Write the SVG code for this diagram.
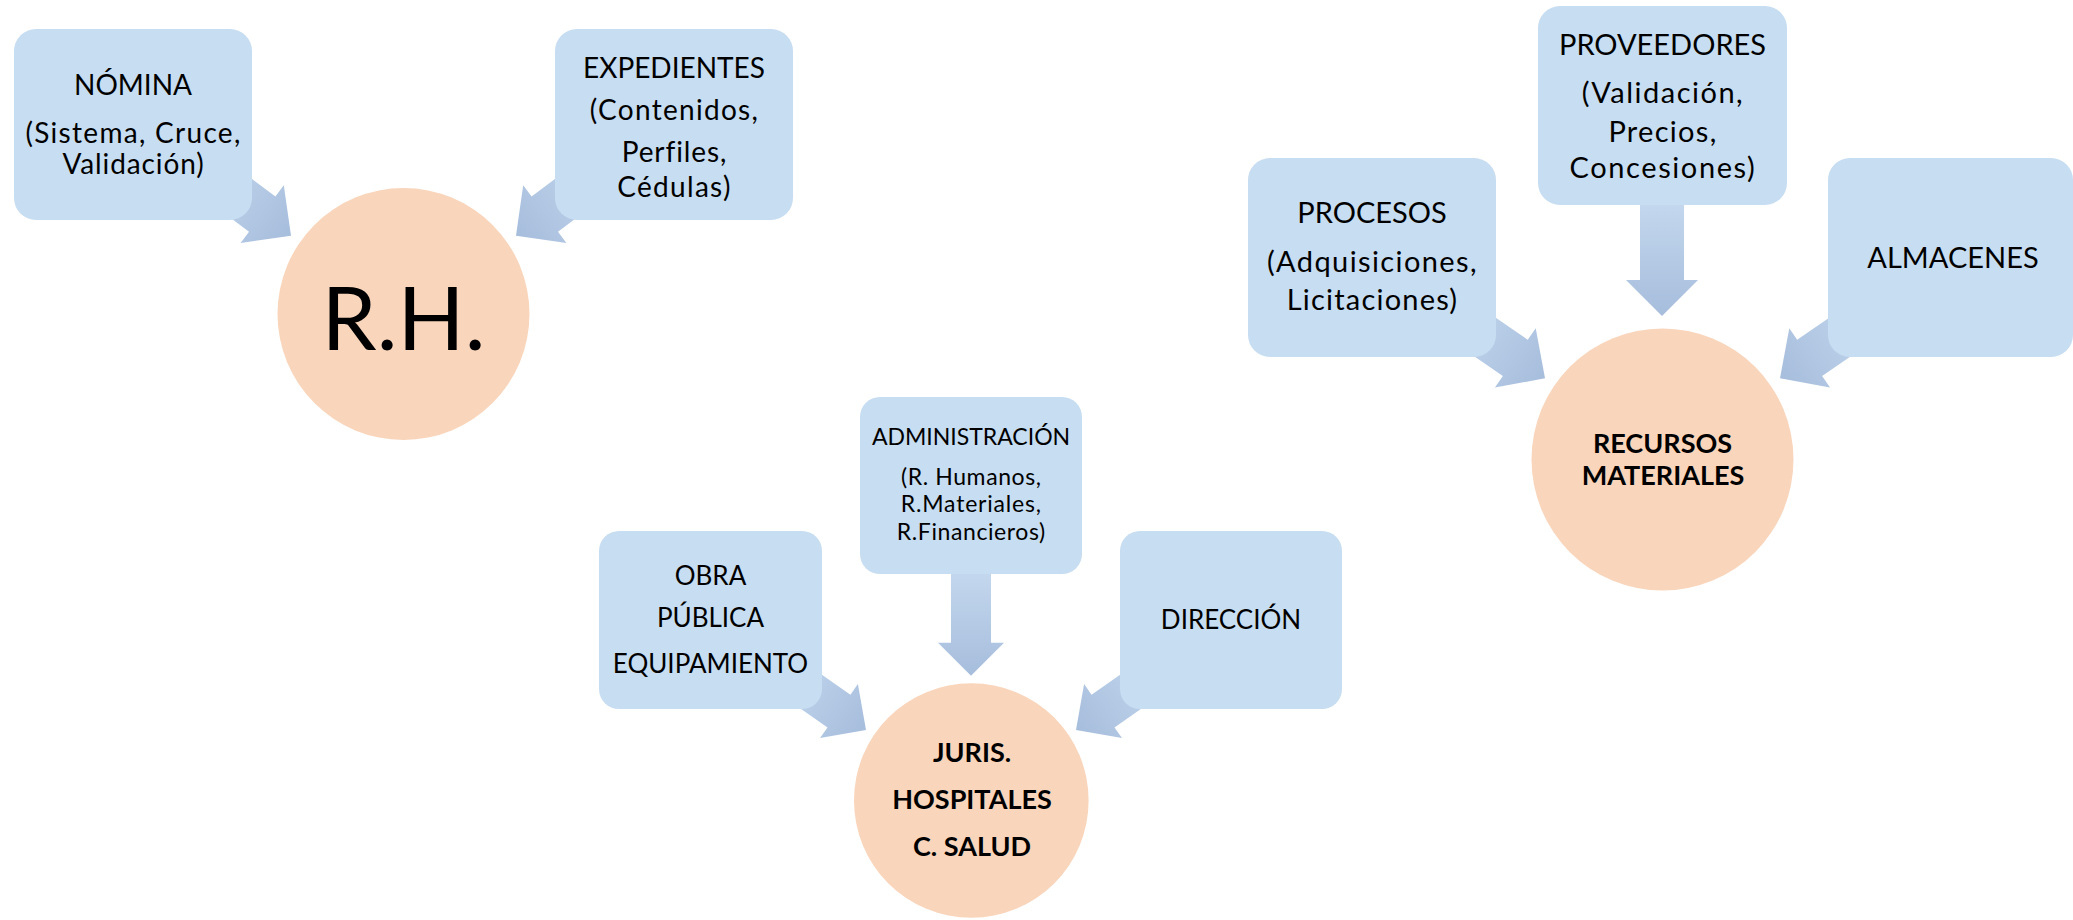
<svg xmlns="http://www.w3.org/2000/svg" xmlns:xlink="http://www.w3.org/1999/xlink" width="2073" height="920" viewBox="0 0 2073 920">
<style>
.box{fill:#c7ddf1}
.circ{fill:#f9d5bb}
.t{font-family:Lato,"Liberation Sans",sans-serif;fill:#000;text-anchor:middle}
.b{font-weight:bold}
.ls{letter-spacing:1.3px}
.ls2{letter-spacing:0.6px}
.arr{fill:url(#ag)}
</style>
<defs>
<linearGradient id="ag" x1="0" y1="0" x2="1" y2="0">
<stop offset="0" stop-color="#c8dbf0"/>
<stop offset="1" stop-color="#a6bddc"/>
</linearGradient>
<path id="bigArrow" d="M0,0 L-36,-36 L-36,-22 L-130,-22 L-130,22 L-36,22 L-36,36 Z"/>
<path id="smallArrow" d="M0,0 L-33,-33 L-33,-20 L-120,-20 L-120,20 L-33,20 L-33,33 Z"/>
</defs>
<rect width="2073" height="920" fill="#fff"/>
<g id="connectors">
<use xlink:href="#bigArrow" class="arr" transform="translate(291,235.7) rotate(36.87)"/>
<use xlink:href="#bigArrow" class="arr" transform="translate(516,235.7) rotate(143.13)"/>
<use xlink:href="#bigArrow" class="arr" transform="translate(1662,316) rotate(90)"/>
<use xlink:href="#bigArrow" class="arr" transform="translate(1545,378.3) rotate(34.5)"/>
<use xlink:href="#bigArrow" class="arr" transform="translate(1780,378.3) rotate(145.5)"/>
<use xlink:href="#smallArrow" class="arr" transform="translate(971,675.7) rotate(90)"/>
<use xlink:href="#smallArrow" class="arr" transform="translate(866,730) rotate(35)"/>
<use xlink:href="#smallArrow" class="arr" transform="translate(1076,730) rotate(145)"/>
</g>
<g id="nomina">
<rect class="box" x="14" y="29" width="238" height="191" rx="22"/>
<text class="t" font-size="28" x="133" y="95">NÓMINA</text>
<text class="t ls" font-size="28" x="133.5" y="143">(Sistema, Cruce,</text>
<text class="t ls" font-size="28" x="133.5" y="174" style="letter-spacing:0.9px">Validación)</text>
</g>
<g id="expedientes">
<rect class="box" x="555" y="29" width="238" height="191" rx="22"/>
<text class="t" font-size="28" x="674" y="78">EXPEDIENTES</text>
<text class="t ls" font-size="28" x="674.5" y="120">(Contenidos,</text>
<text class="t ls" font-size="28" x="674.5" y="162" style="letter-spacing:0.9px">Perfiles,</text>
<text class="t ls" font-size="28" x="674.5" y="197">Cédulas)</text>
</g>
<g id="rh">
<circle class="circ" cx="403.5" cy="314" r="126"/>
<text class="t" font-size="88" x="403.5" y="350">R.H.</text>
</g>
<g id="proveedores">
<rect class="box" x="1538" y="6" width="249" height="199" rx="22"/>
<text class="t" font-size="29" x="1662.5" y="55">PROVEEDORES</text>
<text class="t ls" font-size="29" x="1663" y="103" style="letter-spacing:1.5px">(Validación,</text>
<text class="t ls" font-size="29" x="1663" y="142">Precios,</text>
<text class="t ls" font-size="29" x="1663" y="178" style="letter-spacing:1.6px">Concesiones)</text>
</g>
<g id="procesos">
<rect class="box" x="1248" y="158" width="248" height="199" rx="22"/>
<text class="t" font-size="29" x="1372" y="223">PROCESOS</text>
<text class="t ls" font-size="29" x="1372.5" y="272" style="letter-spacing:1.4px">(Adquisiciones,</text>
<text class="t ls" font-size="29" x="1372.5" y="310" style="letter-spacing:1.2px">Licitaciones)</text>
</g>
<g id="almacenes">
<rect class="box" x="1828" y="158" width="245" height="199" rx="22"/>
<text class="t" font-size="29" x="1953" y="268">ALMACENES</text>
</g>
<g id="recursos">
<circle class="circ" cx="1662.5" cy="459.5" r="131"/>
<text class="t b" font-size="27" x="1662.5" y="453">RECURSOS</text>
<text class="t b" font-size="27" x="1663" y="485">MATERIALES</text>
</g>
<g id="administracion">
<rect class="box" x="860" y="397" width="222" height="177" rx="20"/>
<text class="t" font-size="23" x="971" y="445">ADMINISTRACIÓN</text>
<text class="t ls2" font-size="23" x="971.3" y="485">(R. Humanos,</text>
<text class="t ls2" font-size="23" x="971.3" y="512" style="letter-spacing:0.8px">R.Materiales,</text>
<text class="t ls2" font-size="23" x="971.3" y="540">R.Financieros)</text>
</g>
<g id="obra">
<rect class="box" x="599" y="531" width="223" height="178" rx="20"/>
<text class="t" font-size="26" x="710.5" y="585">OBRA</text>
<text class="t" font-size="26" x="710.5" y="627">PÚBLICA</text>
<text class="t" font-size="26" x="710.5" y="673">EQUIPAMIENTO</text>
</g>
<g id="direccion">
<rect class="box" x="1120" y="531" width="222" height="178" rx="20"/>
<text class="t" font-size="26" x="1231" y="629">DIRECCIÓN</text>
</g>
<g id="juris">
<circle class="circ" cx="971.3" cy="800.5" r="117.3"/>
<text class="t b" font-size="27" x="972" y="762">JURIS.</text>
<text class="t b" font-size="27" x="972" y="809">HOSPITALES</text>
<text class="t b" font-size="27" x="972" y="856">C. SALUD</text>
</g>
</svg>
